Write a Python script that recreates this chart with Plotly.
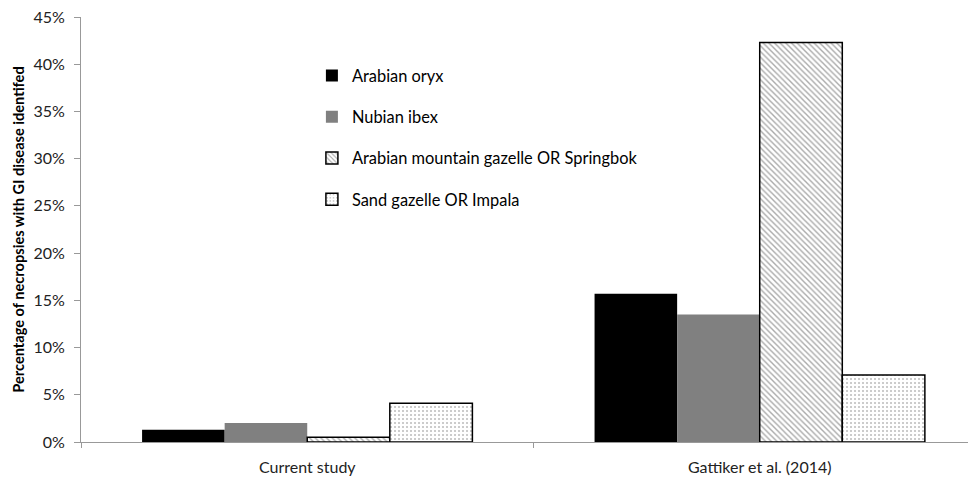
import plotly.graph_objects as go

categories = ["Current study", "Gattiker et al. (2014)"]
series_names = ["Arabian oryx", "Nubian ibex",
                "Arabian mountain gazelle OR Springbok", "Sand gazelle OR Impala"]
arabian_oryx = [0.013, 0.157]
nubian_ibex = [0.020, 0.135]
mountain_gazelle = [0.005, 0.423]
sand_gazelle = [0.041, 0.071]
y_tick_vals = [0, 0.05, 0.10, 0.15, 0.20, 0.25, 0.30, 0.35, 0.40, 0.45]

values = [arabian_oryx, nubian_ibex, mountain_gazelle, sand_gazelle]
styles = [
    dict(color="#000000", line=dict(color="#000000", width=0)),
    dict(color="#808080", line=dict(color="#808080", width=0)),
    dict(color="white", line=dict(color="#000000", width=1.5),
         pattern=dict(shape="\\", fgcolor="#555555", bgcolor="white", size=4, solidity=0.35)),
    dict(color="white", line=dict(color="#000000", width=1.5),
         pattern=dict(shape=".", fgcolor="#777777", bgcolor="white", size=4, solidity=0.2)),
]

fig = go.Figure()
for i, (name, vals, st) in enumerate(zip(series_names, values, styles)):
    fig.add_trace(go.Bar(x=categories, y=vals, name=name, marker=st,
                         legendgroup=f"g{i}"))

font = "Lato"
fig.update_layout(
    width=968, height=469,
    margin=dict(l=73, r=0, t=9, b=35, autoexpand=False),
    paper_bgcolor="white", plot_bgcolor="white",
    barmode="group", bargap=0.27, bargroupgap=0,
    font=dict(family=font, size=16, color="#000000"),
    showlegend=True,
    legend=dict(x=0.258, y=0.903, xanchor="left", yanchor="top",
                bgcolor="rgba(0,0,0,0)", tracegroupgap=17,
                font=dict(family=font, size=16.4, color="#000000"),
                itemwidth=30),
    xaxis=dict(type="category", range=[-0.5, 1.478], automargin=False,
               showline=True, linecolor="#999999", linewidth=1,
               ticks="outside", tickson="boundaries", ticklen=5, tickcolor="#999999",
               showgrid=False, tickfont=dict(size=16, color="#222222"),
               ticklabelstandoff=11, ticklabeloverflow="allow"),
    yaxis=dict(range=[0, 0.45], tickvals=y_tick_vals, tickformat=".0%", automargin=False,
               showline=True, linecolor="#999999", linewidth=1,
               ticks="outside", ticklen=6, tickcolor="#999999",
               showgrid=False, zeroline=False, ticklabelstandoff=6,
               ticklabeloverflow="allow",
               tickfont=dict(size=16, color="#222222"),
               title=dict(text="<b>Percentage of necropsies with GI disease identifed</b>",
                          font=dict(size=14.6, color="#000000"), standoff=5)),
)

fig.write_html("out.html")
